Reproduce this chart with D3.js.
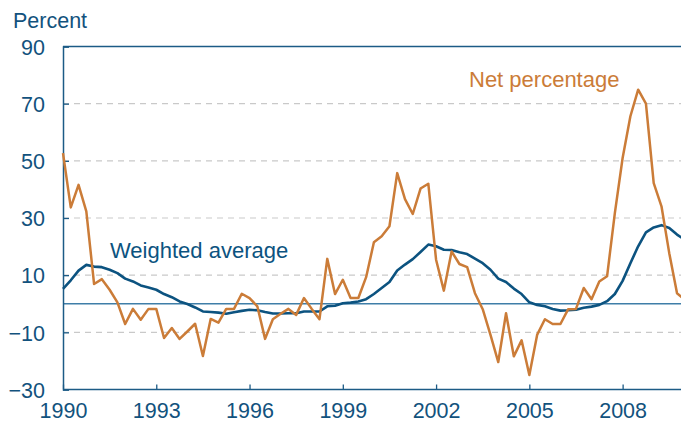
<!DOCTYPE html>
<html>
<head>
<meta charset="utf-8">
<script src="https://cdn.jsdelivr.net/npm/d3@7"></script>
<style>
  html, body { margin: 0; padding: 0; background: #fff; }
  svg { display: block; font-family: "Liberation Sans", Arial, sans-serif; }
</style>
</head>
<body>
<svg id="chart" width="681" height="423"></svg>
<script>
// ---- Data (quarterly, starting 1990 Q1) ----
const startYear = 1990;
const netPercentage = [
  52.7, 33.7, 41.6, 32.3, 6.9, 8.6, 4.9, 0.5,
  -7.1, -1.8, -5.6, -1.8, -1.8, -12.0, -8.5, -12.3,
  -9.7, -7.0, -18.3, -5.3, -6.6, -1.8, -1.8, 3.5,
  2.0, -0.9, -12.3, -5.4, -3.5, -1.8, -3.9, 2.0,
  -1.8, -5.4, 15.7, 3.4, 8.4, 2.0, 2.0, 9.3,
  21.5, 23.6, 27.1, 45.7, 36.6, 31.4, 40.3, 42.0,
  15.4, 4.6, 18.3, 13.9, 12.8, 3.7, -1.9, -10.9,
  -20.4, -3.3, -18.4, -12.8, -24.9, -10.9, -5.4, -7.1,
  -7.1, -1.9, -1.8, 5.5, 1.6, 7.8, 9.6, 31.7,
  51.0, 65.6, 74.9, 70.0, 42.2, 34.1, 17.7, 3.7,
  1.4
];
const weightedAverage = [
  5.2, 8.2, 11.6, 13.6, 13.0, 12.8, 11.9, 10.7,
  8.8, 7.8, 6.4, 5.7, 4.9, 3.4, 2.3, 0.8,
  -0.1, -1.3, -2.7, -2.9, -3.1, -3.5, -3.0, -2.5,
  -2.1, -2.3, -2.9, -3.4, -3.4, -3.3, -3.3, -2.7,
  -2.7, -2.7, -0.9, -0.7, 0.2, 0.4, 0.8, 1.6,
  3.4, 5.5, 7.6, 11.6, 13.7, 15.6, 18.1, 20.7,
  20.1, 18.9, 18.8, 18.0, 17.4, 15.8, 14.2, 11.9,
  8.8, 7.6, 5.3, 3.4, 0.5, -0.4, -0.9, -1.8,
  -2.4, -2.3, -2.1, -1.4, -1.0, -0.4, 0.9, 3.4,
  8.0, 14.2, 20.1, 25.0, 26.7, 27.5, 26.5, 24.2,
  22.4
];
const yTicks = [-30, -10, 10, 30, 50, 70, 90];
const xTicks = [1990, 1993, 1996, 1999, 2002, 2005, 2008];
const yAxisTitle = "Percent";
const seriesLabels = ["Net percentage", "Weighted average"];

// ---- Layout / styles ----
const C = {
  orange: "#cb7c38",
  blue: "#0c5380",
  axis: "#1c5b86",
  zero: "#3f7ea8",
  grid: "#c9c9c9",
  text: "#12527d"
};

const svg = d3.select("#chart");
const x = d3.scaleLinear().domain([1990, 2010]).range([63, 684.8]);
const y = d3.scaleLinear().domain([-30, 90]).range([389.5, 46.5]);

const qx = i => x(startYear + i / 4);

// gridlines
svg.append("g")
  .selectAll("line")
  .data(yTicks.filter(v => v !== -30 && v !== 90))
  .join("line")
  .attr("x1", x(1990)).attr("x2", 681)
  .attr("y1", d => y(d)).attr("y2", d => y(d))
  .attr("stroke", C.grid).attr("stroke-width", 1.2)
  .attr("stroke-dasharray", "6,5");

// top frame line
svg.append("line")
  .attr("x1", x(1990)).attr("x2", 681)
  .attr("y1", y(90)).attr("y2", y(90))
  .attr("stroke", C.axis).attr("stroke-width", 1.5);

// zero line
svg.append("line")
  .attr("x1", x(1990)).attr("x2", 681)
  .attr("y1", y(0)).attr("y2", y(0))
  .attr("stroke", C.zero).attr("stroke-width", 1.3);

// y axis
const yAxis = svg.append("g")
  .attr("transform", `translate(${x(1990)},0)`)
  .call(d3.axisRight(y).tickValues(yTicks).tickSize(6).tickFormat(d3.format("d")));
yAxis.select(".domain").attr("stroke", C.axis).attr("stroke-width", 1.5);
yAxis.selectAll(".tick line").attr("stroke", C.axis).attr("stroke-width", 1.3);
yAxis.selectAll(".tick text")
  .attr("x", -18).attr("text-anchor", "end")
  .attr("fill", C.text).attr("font-size", "21.5px")
  .attr("font-family", "Liberation Sans, Arial, sans-serif")
  .attr("dy", "0.36em");

// x axis
const xAxis = svg.append("g")
  .attr("transform", `translate(0,${y(-30)})`)
  .call(d3.axisTop(x).tickValues(xTicks).tickSize(5).tickFormat(d3.format("d")));
xAxis.select(".domain").remove();
xAxis.append("line")
  .attr("x1", x(1990)).attr("x2", 681).attr("y1", 0).attr("y2", 0)
  .attr("stroke", C.axis).attr("stroke-width", 1.5);
xAxis.selectAll(".tick line").attr("stroke", C.axis).attr("stroke-width", 1.3);
xAxis.selectAll(".tick text")
  .attr("y", 28).attr("dy", 0)
  .attr("fill", C.text).attr("font-size", "21.5px")
  .attr("font-family", "Liberation Sans, Arial, sans-serif");

// lines
const line = d3.line().x((d, i) => qx(i)).y(d => y(d));
svg.append("path")
  .datum(weightedAverage)
  .attr("d", line)
  .attr("fill", "none").attr("stroke", C.blue)
  .attr("stroke-width", 2.6).attr("stroke-linejoin", "round");
svg.append("path")
  .datum(netPercentage)
  .attr("d", line)
  .attr("fill", "none").attr("stroke", C.orange)
  .attr("stroke-width", 2.5).attr("stroke-linejoin", "round");

// labels
svg.append("text")
  .attr("x", 13).attr("y", 28)
  .attr("fill", C.text).attr("font-size", "21.5px")
  .text(yAxisTitle);

svg.append("text")
  .attr("x", 469).attr("y", 87)
  .attr("fill", C.orange).attr("font-size", "22px")
  .text(seriesLabels[0]);

svg.append("text")
  .attr("x", 110).attr("y", 258)
  .attr("fill", C.blue).attr("font-size", "22px")
  .text(seriesLabels[1]);
</script>
</body>
</html>
